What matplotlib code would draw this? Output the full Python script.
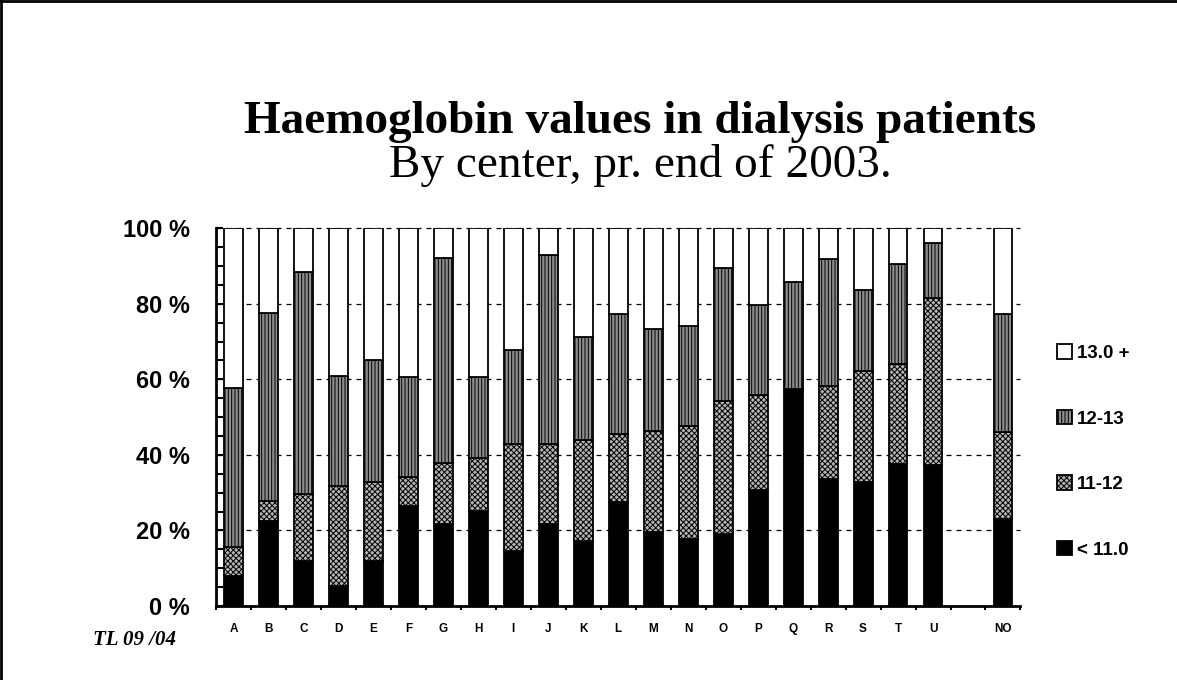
import numpy as np
import matplotlib.pyplot as plt
from matplotlib.lines import Line2D

# categories (empty string = gap before the national total)
categories = ['A', 'B', 'C', 'D', 'E', 'F', 'G', 'H', 'I', 'J', 'K',
              'L', 'M', 'N', 'O', 'P', 'Q', 'R', 'S', 'T', 'U', '', 'NO']

# share of patients (%) per haemoglobin band, one value per bar
hb_lt11 = [7.9, 22.6, 12.0, 5.4, 12.0, 26.6, 21.7, 25.2, 14.6, 21.7, 17.2,
           27.6, 19.7, 17.7, 19.1, 30.7, 57.5, 33.5, 32.7, 37.7, 37.2, 23.0]
hb_11_12 = [7.6, 5.2, 17.6, 26.5, 20.7, 7.6, 16.1, 14.1, 28.2, 21.1, 26.8,
            17.9, 26.6, 30.0, 35.2, 25.2, 0.0, 24.8, 29.6, 26.4, 44.3, 23.1]
hb_12_13 = [42.3, 49.9, 58.7, 29.1, 32.4, 26.3, 54.2, 21.4, 25.0, 50.0, 27.3,
            31.8, 27.0, 26.3, 35.3, 23.8, 28.4, 33.5, 21.4, 26.5, 14.7, 31.1]
hb_13plus = [42.2, 22.3, 11.7, 39.0, 34.9, 39.5, 8.0, 39.3, 32.2, 7.2, 28.7,
             22.7, 26.7, 26.0, 10.4, 20.3, 14.1, 8.2, 16.3, 9.4, 3.8, 22.8]

band_labels = ['< 11.0', '11-12', '12-13', '13.0 +']
y_ticks = [0, 20, 40, 60, 80, 100]

plt.rcParams['hatch.linewidth'] = 0.7
sans = 'Liberation Sans'
serif = 'Liberation Serif'

fig = plt.figure(figsize=(11.77, 6.8), dpi=100)
ax = fig.add_axes([0.1835, 0.1088, 0.6835, 0.5555])

x = np.array([i for i, c in enumerate(categories) if c])
w = 0.54
bands = [hb_lt11, hb_11_12, hb_12_13, hb_13plus]
styles = [dict(color='black'),
          dict(color='#b4b4b4', hatch='xxxxxx'),
          dict(color='#8c8c8c', hatch='|||||'),
          dict(color='white')]

bottom = np.zeros(len(x))
handles = []
for vals, st, lab in zip(bands, styles, band_labels):
    vals = np.array(vals)
    b = ax.bar(x, vals, w, bottom=bottom, facecolor=st['color'],
               edgecolor='black', linewidth=1.3, hatch=st.get('hatch'),
               label=lab, zorder=3)
    handles.append(b)
    bottom += vals

ax.set_xlim(-0.5, len(categories) - 0.5)
ax.set_ylim(0, 100)

# gridlines
for yv in y_ticks[1:]:
    ax.axhline(yv, color='black', lw=0.9, ls=(0, (4, 4)), zorder=1, clip_on=False)

for s in ['top', 'right']:
    ax.spines[s].set_visible(False)
ax.spines['left'].set_linewidth(2)
ax.spines['bottom'].set_linewidth(2)

ax.set_yticks(y_ticks)
ax.set_yticklabels([f'{v} %' for v in y_ticks], fontsize=17, fontweight='bold',
                   family=sans)
ax.set_yticks(np.arange(0, 101, 5), minor=True)
ax.tick_params(axis='y', which='both', direction='in', length=5, width=1.5,
               pad=19)

ax.set_xticks(np.arange(-0.5, len(categories), 1))
ax.set_xticklabels([])
ax.tick_params(axis='x', which='major', direction='out', length=3, width=1.5)
ax.set_xticks(x, minor=True)
ax.set_xticklabels([c for c in categories if c], minor=True, fontsize=8.5,
                   fontweight='bold', family=sans)
ax.tick_params(axis='x', which='minor', length=0, pad=12)

# legend, top band first
fig.legend(handles[::-1], band_labels[::-1], loc='center left',
           bbox_to_anchor=(0.884, 0.336), frameon=False, handlelength=0.8,
           handleheight=0.8, handletextpad=0.25, labelspacing=2.55,
           prop=dict(family=sans, weight='bold', size=13.5))

fig.text(0.544, 1 - 133 / 680, 'Haemoglobin values in dialysis patients',
         ha='center', va='baseline', fontsize=34, fontweight='bold', family=serif)
fig.text(0.544, 1 - 177 / 680, 'By center, pr. end of 2003.',
         ha='center', va='baseline', fontsize=34, family=serif)
fig.text(93 / 1177, 1 - 645 / 680, 'TL 09 /04', ha='left', va='baseline',
         fontsize=15, fontweight='bold', fontstyle='italic', family=serif)

# frame on the left and top edge
fig.add_artist(Line2D([0.001, 0.001], [0, 1], color='black', lw=2,
                      transform=fig.transFigure))
fig.add_artist(Line2D([0, 1], [0.998, 0.998], color='black', lw=2,
                      transform=fig.transFigure))

fig.savefig('out.png', dpi=100)
